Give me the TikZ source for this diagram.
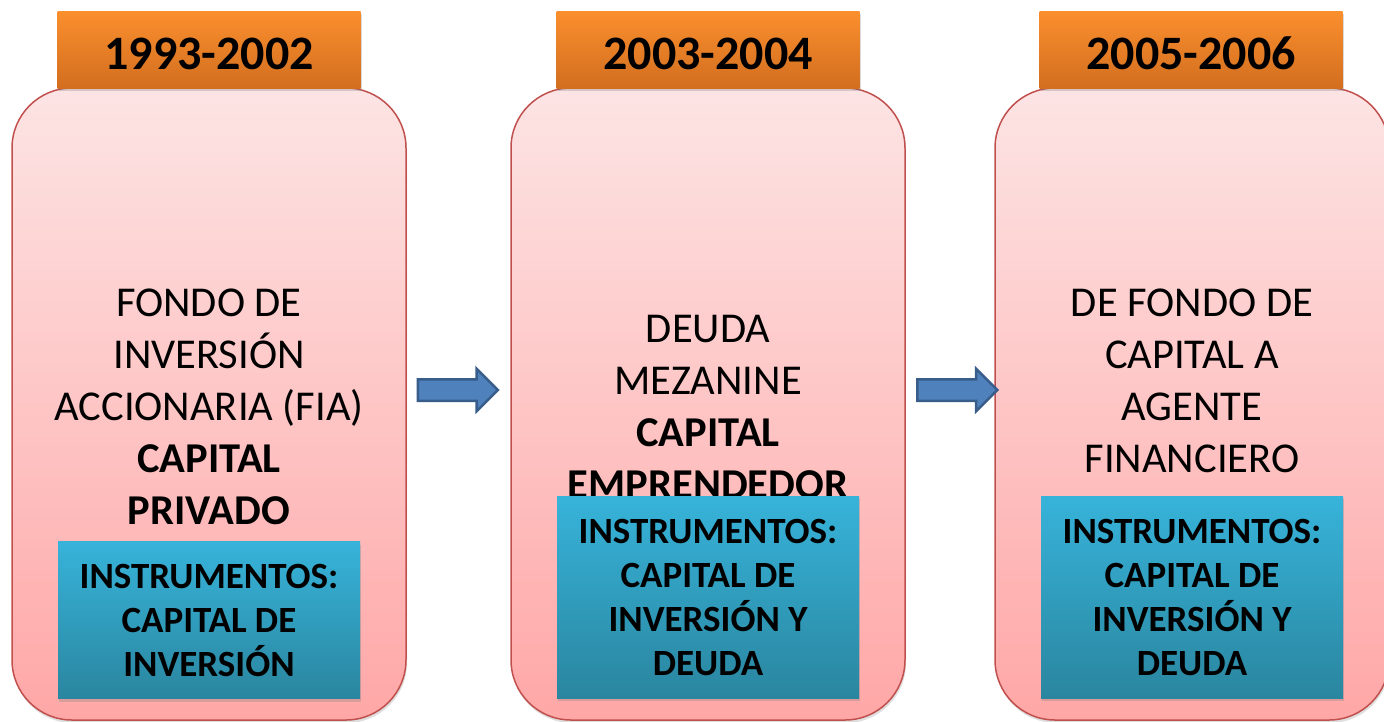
\documentclass[tikz,border=0pt]{standalone}
\usepackage{fontspec}
\setmainfont{Carlito}
\usetikzlibrary{shapes.arrows,shadows,calc}

\definecolor{tabtop}{HTML}{FB8F2E}
\definecolor{tabbot}{HTML}{D26E1F}
\definecolor{pinktop}{HTML}{FDE4E4}
\definecolor{pinkbot}{HTML}{FFA7A7}
\definecolor{pinkline}{HTML}{C0504D}
\definecolor{instop}{HTML}{37B3DA}
\definecolor{insbot}{HTML}{2A869F}
\definecolor{arrfill}{HTML}{4F81BD}
\definecolor{arrline}{HTML}{385D8A}

\begin{document}
\begin{tikzpicture}[x=1pt,y=-1pt,
  era/.style={rounded corners=60pt, draw=pinkline, line width=1.5pt,
    top color=pinktop, bottom color=pinkbot,
    minimum width=394pt, minimum height=632pt,
    drop shadow={opacity=0.25, shadow xshift=1pt, shadow yshift=-3pt}},
  yeartab/.style={top color=tabtop, bottom color=tabbot, minimum width=303pt,
    minimum height=77pt, inner sep=0pt, text height=40pt, text depth=0pt,
    font=\fontsize{48}{58}\selectfont\bfseries,
    drop shadow={opacity=0.3, shadow xshift=1pt, shadow yshift=-3pt}},
  instr/.style={top color=instop, bottom color=insbot, minimum width=302pt,
    inner sep=0pt, align=center,
    font=\fontsize{37}{44}\selectfont\bfseries,
    drop shadow={opacity=0.3, shadow xshift=1pt, shadow yshift=-3pt}},
  body/.style={align=center, font=\fontsize{42.5}{52}\selectfont},
  move/.style={single arrow, draw=arrline, line width=2.5pt, fill=arrfill,
    minimum height=80pt, inner xsep=0pt, inner ysep=9.5pt,
    single arrow head extend=10.5pt}]
\useasboundingbox (0,0) rectangle (1384,721);

% periods
\node[era] (p1) at (209,404) {};
\node[era] (p2) at (708,404) {};
\node[era] (p3) at (1192,404) {};

\node[body] (d1) at (209,407) {FONDO DE\\INVERSIÓN\\ACCIONARIA (FIA)\\\textbf{CAPITAL}\\\textbf{PRIVADO}};
\node[body] (d2) at (708,407) {DEUDA\\MEZANINE\\\textbf{CAPITAL}\\\textbf{EMPRENDEDOR}};
\node[body] (d3) at (1192,381) {DE FONDO DE\\CAPITAL A\\AGENTE\\FINANCIERO};

\node[instr, minimum height=157pt] (i1) at (209,620) {INSTRUMENTOS:\\CAPITAL DE\\INVERSIÓN};
\node[instr, minimum height=202pt] (i2) at (708,597) {INSTRUMENTOS:\\CAPITAL DE\\INVERSIÓN Y\\DEUDA};
\node[instr, minimum height=202pt] (i3) at (1192,597) {INSTRUMENTOS:\\CAPITAL DE\\INVERSIÓN Y\\DEUDA};

\node[yeartab] (t1) at (209,49.5) {1993-2002};
\node[yeartab] (t2) at (708,49.5) {2003-2004};
\node[yeartab] (t3) at (1191,49.5) {2005-2006};

% arrows between periods
\node[move] (a1) at ($(p1.east)!0.5!(p2.west)+(-6,-14)$) {};
\node[move] (a2) at ($(p2.east)!0.5!(p3.west)+(2,-14)$) {};
\end{tikzpicture}
\end{document}
